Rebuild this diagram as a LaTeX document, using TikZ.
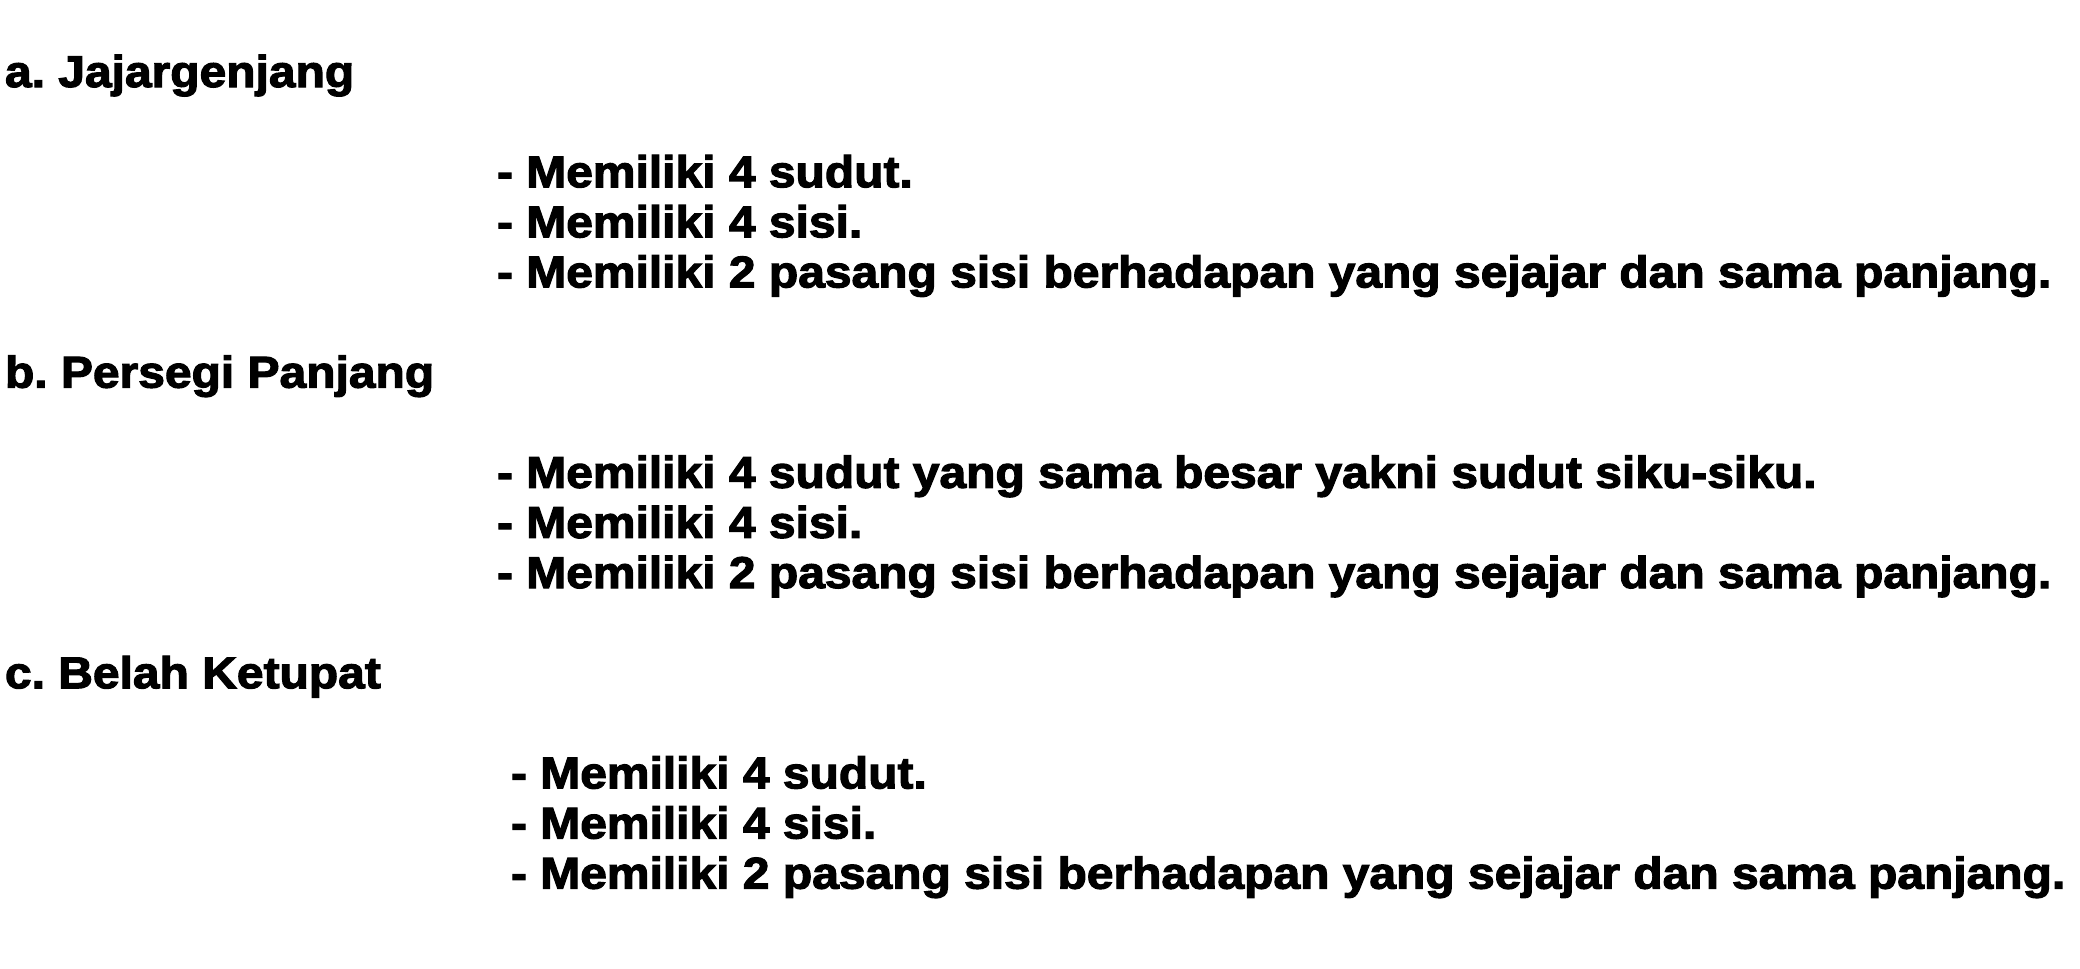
\documentclass[tikz,border=0pt]{standalone}
\usepackage{fontspec}
\setmainfont{Liberation Sans}[BoldFeatures={FakeStretch=1.078,FakeBold=2.6}]
\frenchspacing
\tikzset{
  txt/.style={anchor=base west, inner sep=0pt, outer sep=0pt, text=black,
    font=\fontsize{44.5bp}{50bp}\selectfont\bfseries}
}
\begin{document}
\begin{tikzpicture}[x=1bp,y=-1bp]
\useasboundingbox[fill=white] (0,0) rectangle (2080,969);
% section a
\node[txt] (ta) at (5,87) {a. Jajargenjang};
\node[txt] (a1) at (497,187.2) {- Memiliki 4 sudut.};
\node[txt] (a2) at (497,237.3) {- Memiliki 4 sisi.};
\node[txt] (a3) at (497,287.4) {- Memiliki 2 pasang sisi berhadapan yang sejajar dan sama panjang.};
% section b
\node[txt] (tb) at (5,387.6) {b. Persegi Panjang};
\node[txt] (b1) at (497,487.8) {- Memiliki 4 sudut yang sama besar yakni sudut siku-siku.};
\node[txt] (b2) at (497,537.9) {- Memiliki 4 sisi.};
\node[txt] (b3) at (497,588.0) {- Memiliki 2 pasang sisi berhadapan yang sejajar dan sama panjang.};
% section c
\node[txt] (tc) at (5,688.2) {c. Belah Ketupat};
\node[txt] (c1) at (511,788.4) {- Memiliki 4 sudut.};
\node[txt] (c2) at (511,838.5) {- Memiliki 4 sisi.};
\node[txt] (c3) at (511,888.6) {- Memiliki 2 pasang sisi berhadapan yang sejajar dan sama panjang.};
\end{tikzpicture}
\end{document}
